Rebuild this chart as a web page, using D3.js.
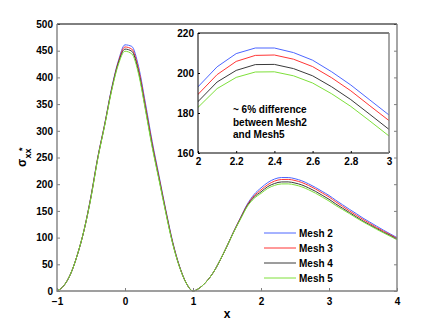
<!DOCTYPE html>
<html>
<head>
<meta charset="utf-8">
<script src="https://cdn.jsdelivr.net/npm/d3@7/dist/d3.min.js"></script>
<style>
  body { margin: 0; background: #fff; }
  text { font-family: "Liberation Sans", Arial, Helvetica, sans-serif; font-weight: bold; }
</style>
</head>
<body>
<script>
// x positions shared by every mesh
const xValues = [-1.0,-0.9,-0.8,-0.7,-0.6,-0.5,-0.4,-0.3,-0.2,-0.1,
  0.0,0.1,0.2,0.3,0.4,0.5,0.6,0.7,0.8,0.9,
  1.0,1.1,1.2,1.3,1.4,1.5,1.6,1.7,1.8,1.9,
  2.0,2.1,2.2,2.3,2.4,2.5,2.6,2.7,2.8,2.9,
  3.0,3.1,3.2,3.3,3.4,3.5,3.6,3.7,3.8,3.9,4.0];

const mesh2 = [0,10,32,68,115,178,251,312,378,430,
  461,458,420,352,280,216,152,93,47,15,
  0,6,18,35,58,84,112,138,163,181,
  193.1,203.1,209.7,212.5,212.5,210.2,206.4,200.6,194.0,186.5,
  179.0,170,161.5,153,145,136.5,129,121.5,114,107,100];
const mesh3 = [0,10,32,68,115,177,250,311,376,428,
  457,453,415,347,276,213,150,91.5,46.5,15,
  0,6,18,35,58,84,111.5,137,161.5,178.5,
  189.3,199.2,205.8,208.8,209.0,206.9,203.2,197.6,191.1,183.6,
  176.2,167,158.5,150,142,134,126.5,119,112,105.5,98.5];
const mesh4 = [0,10,32,68,115,176,249,310,375,426,
  453,449,410,342,272,210,148,90,46,15,
  0,6,18,35,58,84,111,136,160,176,
  185.7,195.5,201.3,204.2,204.3,202.2,198.6,193.1,186.7,179.3,
  171.8,163,155,147,139,131,124,117,110,104,97];
const mesh5 = [0,10,32,68,115,175,248,309,373,423,
  449,444,406,339,269,208,146,89,45.5,15,
  0,6,18,35,58,84,110.5,135,158.5,173.5,
  182.8,192.2,197.8,200.5,200.6,198.6,195.0,189.6,183.3,176.0,
  168.5,160,152.5,145,137,129.5,122.5,115.5,109,102.5,96];

const seriesNames = ["Mesh 2", "Mesh 3", "Mesh 4", "Mesh 5"];
const seriesColors = ["#4d66ff", "#ff3535", "#3a3a3a", "#7ee03a"];
const seriesValues = [mesh2, mesh3, mesh4, mesh5];

const xTicks = [-1, 0, 1, 2, 3, 4];
const yTicks = [0, 50, 100, 150, 200, 250, 300, 350, 400, 450, 500];
const insetXTicks = [2, 2.2, 2.4, 2.6, 2.8, 3];
const insetYTicks = [160, 180, 200, 220];
const note = ["~ 6% difference", "between Mesh2", "and Mesh5"];

const width = 438, height = 329;
const svg = d3.select("body").append("svg")
  .attr("width", width).attr("height", height);

const plot = { left: 57, right: 397, top: 24, bottom: 291 };

const X = d3.scaleLinear().domain([-1, 4]).range([plot.left, plot.right]);
const Y = d3.scaleLinear().domain([0, 500]).range([plot.bottom, plot.top]);

const series = seriesValues.map((vals, i) => ({
  name: seriesNames[i], color: seriesColors[i],
  points: vals.map((v, j) => ({ x: xValues[j], y: v }))
}));

// main curves
const line = d3.line().x(d => X(d.x)).y(d => Y(d.y)).curve(d3.curveMonotoneX);
series.forEach(s => {
  svg.append("path")
    .attr("d", line(s.points))
    .attr("fill", "none")
    .attr("stroke", s.color)
    .attr("stroke-width", 1);
});

// main axes (inward ticks, like matlab)
const axisGray = "#808080";
svg.append("g")
  .attr("transform", `translate(0,${plot.bottom})`)
  .call(d3.axisBottom(X).tickValues(xTicks).tickSizeInner(-3).tickSizeOuter(0).tickPadding(7)
    .tickFormat(d3.format("d")))
  .call(g => g.select(".domain").remove())
  .call(g => g.selectAll(".tick line").attr("stroke", axisGray))
  .call(g => g.selectAll("text").attr("font-size", 10).attr("fill", "#000"));

svg.append("g")
  .attr("transform", `translate(${plot.left},0)`)
  .call(d3.axisLeft(Y).tickValues(yTicks).tickSizeInner(-3).tickSizeOuter(0).tickPadding(4))
  .call(g => g.select(".domain").remove())
  .call(g => g.selectAll(".tick line").attr("stroke", axisGray))
  .call(g => g.selectAll("text").attr("font-size", 10).attr("fill", "#000"));

svg.append("g")
  .attr("transform", `translate(${plot.right},0)`)
  .call(d3.axisRight(Y).tickValues(yTicks).tickSizeInner(-3).tickSizeOuter(0).tickFormat(""))
  .call(g => g.select(".domain").remove())
  .call(g => g.selectAll(".tick line").attr("stroke", axisGray));

// frame
svg.append("line").attr("x1", plot.left).attr("x2", plot.right)
  .attr("y1", plot.top).attr("y2", plot.top).attr("stroke", "#000");
svg.append("path")
  .attr("d", `M${plot.left},${plot.top}V${plot.bottom}H${plot.right}V${plot.top}`)
  .attr("fill", "none").attr("stroke", axisGray).attr("stroke-width", 1.4);

// axis labels
svg.append("text")
  .attr("x", (plot.left + plot.right) / 2).attr("y", 318)
  .attr("text-anchor", "middle").attr("font-size", 12).text("x");

const ylab = svg.append("g").attr("transform", "translate(25,155) rotate(-90)");
ylab.append("text").attr("x", -12).attr("y", 1).attr("font-size", 12)
  .attr("font-weight", "normal").text("σ");
ylab.append("text").attr("x", -3.5).attr("y", 6).attr("font-size", 9).text("xx");
ylab.append("text").attr("x", 4).attr("y", -0.5).attr("font-size", 9).text("*");

// legend
const legend = svg.append("g");
series.forEach((s, i) => {
  const yy = 233 + i * 15;
  legend.append("line")
    .attr("x1", 264).attr("x2", 296).attr("y1", yy).attr("y2", yy)
    .attr("stroke", s.color).attr("stroke-width", 1);
  legend.append("text")
    .attr("x", 299).attr("y", yy).attr("dy", "0.35em")
    .attr("font-size", 10).text(s.name);
});

// inset
const inset = { left: 198, right: 389, top: 33, bottom: 153 };
const XI = d3.scaleLinear().domain([2, 3]).range([inset.left, inset.right]);
const YI = d3.scaleLinear().domain([160, 220]).range([inset.bottom, inset.top]);

svg.append("rect")
  .attr("x", inset.left).attr("y", inset.top)
  .attr("width", inset.right - inset.left).attr("height", inset.bottom - inset.top)
  .attr("fill", "#fff");

svg.append("clipPath").attr("id", "insetClip")
  .append("rect")
  .attr("x", inset.left).attr("y", inset.top)
  .attr("width", inset.right - inset.left).attr("height", inset.bottom - inset.top);

const lineI = d3.line().x(d => XI(d.x)).y(d => YI(d.y));
const insetCurves = svg.append("g").attr("clip-path", "url(#insetClip)");
series.forEach(s => {
  insetCurves.append("path")
    .attr("d", lineI(s.points.filter(d => d.x >= 1.9 && d.x <= 3.1)))
    .attr("fill", "none")
    .attr("stroke", s.color)
    .attr("stroke-width", 1);
});

svg.append("g")
  .attr("transform", `translate(0,${inset.bottom})`)
  .call(d3.axisBottom(XI).tickValues(insetXTicks).tickSizeInner(-2).tickSizeOuter(0).tickPadding(5)
    .tickFormat(d3.format("~g")))
  .call(g => g.select(".domain").remove())
  .call(g => g.selectAll("text").attr("font-size", 10).attr("fill", "#000"));

svg.append("g")
  .attr("transform", `translate(${inset.left},0)`)
  .call(d3.axisLeft(YI).tickValues(insetYTicks).tickSizeInner(-2).tickSizeOuter(0).tickPadding(4))
  .call(g => g.select(".domain").remove())
  .call(g => g.selectAll("text").attr("font-size", 10).attr("fill", "#000"));

svg.append("path")
  .attr("d", `M${inset.right},${inset.top}H${inset.left}V${inset.bottom}H${inset.right}`)
  .attr("fill", "none").attr("stroke", "#000").attr("stroke-width", 1);
svg.append("line")
  .attr("x1", inset.right).attr("x2", inset.right)
  .attr("y1", inset.top).attr("y2", inset.bottom)
  .attr("stroke", axisGray).attr("stroke-width", 1.4);

const noteText = svg.append("text").attr("font-size", 10);
note.forEach((t, i) => {
  noteText.append("tspan").attr("x", 233).attr("y", 113 + i * 12.5).text(t);
});
</script>
</body>
</html>
